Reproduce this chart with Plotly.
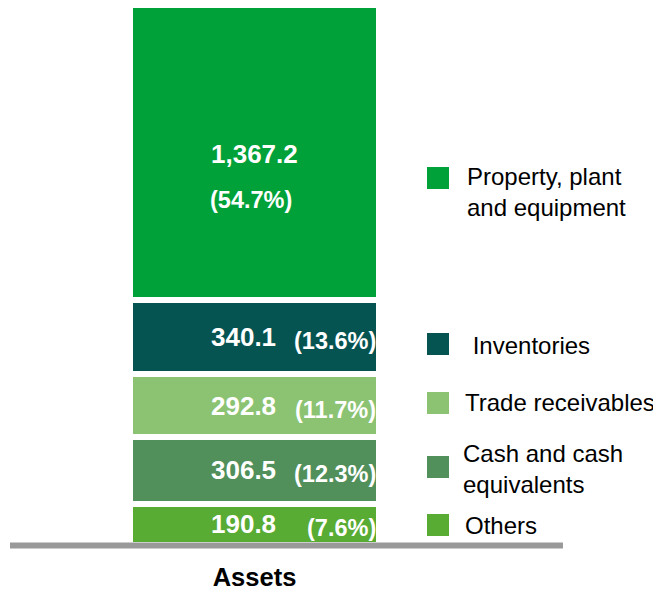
import plotly.graph_objects as go

categories = ["Others", "Cash and cash equivalents", "Trade receivables", "Inventories", "Property, plant and equipment"]
legend_labels = ["Others", "Cash and cash<br>equivalents", "Trade receivables", " Inventories", "Property, plant<br>and equipment"]
values = [190.8, 306.5, 292.8, 340.1, 1367.2]
value_labels = ["190.8", "306.5", "292.8", "340.1", "1,367.2"]
pct_labels = ["(7.6%)", "(12.3%)", "(11.7%)", "(13.6%)", "(54.7%)"]
colors = ["#58AB33", "#518F5B", "#8BC373", "#065452", "#00A139"]
x_label = "Assets"

W, H = 661, 590
OFF = 8  # page body margin
# target plot area in page pixels
PL, PR, PT, PB = 10, 563, 8, 545
ML = PL - OFF
MT = PT - OFF
PW = PR - PL
PH = PB - PT
MR = W - ML - PW
MB = H - MT - PH

def px_x(px):
    return (px - PL) / PW

def px_y(py):
    return (PB - py) / PH

total = sum(values)
# bar's true top (white edge centered) sits at page y=4; clipped at plot top
y_top = total * (PB - PT) / (PB - 4)

bar_x = px_x(254.5)
bar_w = 249 / PW
font = "Liberation Sans, Arial, sans-serif"

fig = go.Figure()
for cat, v, c in zip(categories, values, colors):
    fig.add_trace(go.Bar(
        x=[bar_x], y=[v], name=cat, width=[bar_w],
        marker=dict(color=c, line=dict(color="white", width=6)),
        showlegend=False, hoverinfo="skip",
    ))

annotations = []
shapes = []
cum = 0
for i, (v, vl, pl) in enumerate(zip(values, value_labels, pct_labels)):
    mid = cum + v / 2
    cum += v
    if i == len(values) - 1:
        annotations.append(dict(x=bar_x, y=mid, xref="x", yref="y", text=f"<b>{vl}</b>",
                                showarrow=False, font=dict(size=26, color="white", family=font),
                                xanchor="center", yanchor="middle", yshift=-2))
        annotations.append(dict(x=px_x(250.5), y=mid, xref="x", yref="y", text=f"<b>{pl}</b>",
                                showarrow=False, font=dict(size=23.5, color="white", family=font),
                                xanchor="center", yanchor="middle", yshift=-48))
    else:
        annotations.append(dict(x=px_x(278), y=mid, xref="x", yref="y", text=f"<b>{vl}</b>",
                                showarrow=False, font=dict(size=26, color="white", family=font),
                                xanchor="right", yanchor="middle", yshift=0))
        annotations.append(dict(x=px_x(378), y=mid, xref="x", yref="y", text=f"<b>{pl}</b>",
                                showarrow=False, font=dict(size=23.5, color="white", family=font),
                                xanchor="right", yanchor="middle", yshift=-4))

# legend (custom)
leg_square_y = [525, 467, 403, 344, 178]
leg_text_y = [525, 468.5, 402, 345, 192]
leg_text_x = [463, 461, 463, 464, 465]
for lab, c, sy, ty, tx in zip(legend_labels, colors, leg_square_y, leg_text_y, leg_text_x):
    shapes.append(dict(type="rect", xref="paper", yref="paper",
                       x0=px_x(427), x1=px_x(449), y0=px_y(sy + 11), y1=px_y(sy - 11),
                       fillcolor=c, line=dict(width=0)))
    annotations.append(dict(x=px_x(tx), y=px_y(ty), xref="paper", yref="paper", text=lab,
                            showarrow=False, align="left", xanchor="left", yanchor="middle",
                            font=dict(size=24, color="#000000", family=font)))

# baseline
shapes.append(dict(type="line", xref="paper", yref="paper", x0=0, x1=1, y0=px_y(545.5), y1=px_y(545.5),
                   line=dict(color="#999999", width=6), layer="above"))

fig.update_layout(
    width=W, height=H,
    margin=dict(l=ML, r=MR, t=MT, b=MB, pad=0),
    barmode="stack",
    paper_bgcolor="white", plot_bgcolor="white",
    xaxis=dict(range=[0, 1], tickvals=[bar_x], ticktext=[f"<b>{x_label}</b>"],
               tickfont=dict(size=25.5, color="#000000", family=font),
               ticklabelstandoff=14,
               showgrid=False, zeroline=False, showline=False, ticks=""),
    yaxis=dict(range=[0, y_top], visible=False, showgrid=False, zeroline=False),
    annotations=annotations,
    shapes=shapes,
)

fig.write_html("out.html")
